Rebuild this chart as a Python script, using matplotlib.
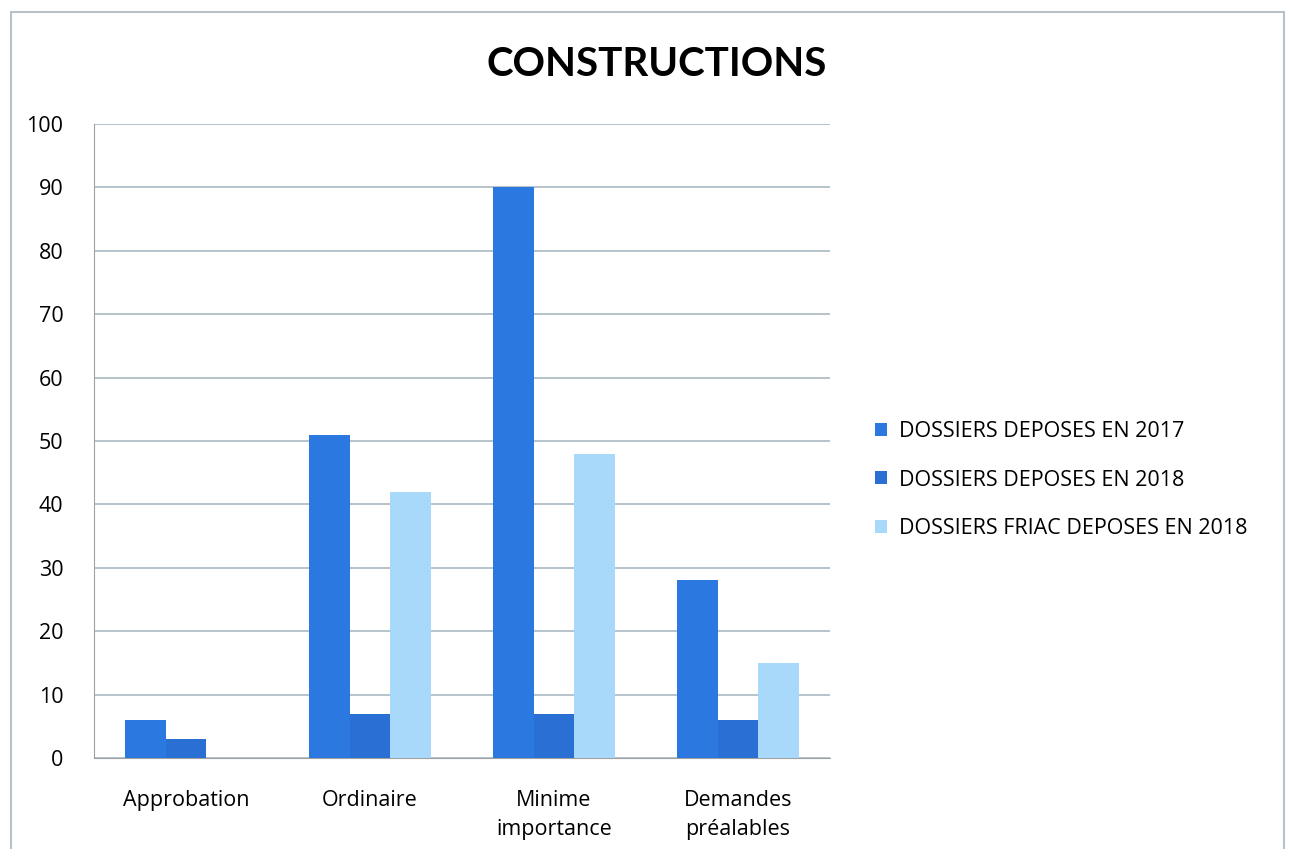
import numpy as np
import matplotlib.pyplot as plt
from matplotlib.patches import Rectangle

categories = ["Approbation", "Ordinaire", "Minime\nimportance", "Demandes\npréalables"]
series_names = ["DOSSIERS DEPOSES EN 2017", "DOSSIERS DEPOSES EN 2018",
                "DOSSIERS FRIAC DEPOSES EN 2018"]
dossiers_2017 = [6, 51, 90, 28]
dossiers_2018 = [3, 7, 7, 6]
friac_2018 = [0, 42, 48, 15]
colors = ["#2b78e0", "#2a6fd3", "#a8d9fa"]

plt.rcParams['font.family'] = ['Open Sans', 'DejaVu Sans']

fig = plt.figure(figsize=(12.96, 8.49), dpi=100)
fig.patches.append(Rectangle((11 / 1296, -0.1), 1273 / 1296, 1.1 - 12 / 849,
                             transform=fig.transFigure, fill=False,
                             edgecolor="#b8c0c8", linewidth=1.5))

ax = fig.add_axes([94 / 1296, 91 / 849, 736 / 1296, 634 / 849])

x = np.arange(len(categories))
w = 0.22
for i, vals in enumerate([dossiers_2017, dossiers_2018, friac_2018]):
    ax.bar(x + (i - 1) * w, vals, w, color=colors[i], label=series_names[i], zorder=3)

ax.set_xlim(-0.5, 3.5)
ax.set_ylim(0, 100)
ax.set_yticks(range(0, 101, 10))
ax.set_xticks(x)
ax.set_xticklabels(categories, fontsize=15.5, linespacing=1.5)
ax.tick_params(axis='y', labelsize=15.5, length=0, pad=22)
ax.tick_params(axis='x', length=0, pad=23)
ax.grid(axis='y', color="#a9b9c2", linewidth=1.2, zorder=0)
for s in ["top", "right"]:
    ax.spines[s].set_visible(False)
ax.spines["left"].set_color("#a0a0a0")
ax.spines["bottom"].set_color("#a0a0a0")

fig.text(657 / 1296, 1 - 65 / 849, "CONSTRUCTIONS", fontsize=29, fontweight="bold",
         family=['Lato', 'DejaVu Sans'], ha="center", va="center")

fig.legend(loc="center left", bbox_to_anchor=(856 / 1296, 1 - 480 / 849), frameon=False,
           fontsize=15.5, handlelength=0.55, handleheight=0.55, handletextpad=0.55,
           labelspacing=1.28)

fig.savefig("out.png", dpi=100)
